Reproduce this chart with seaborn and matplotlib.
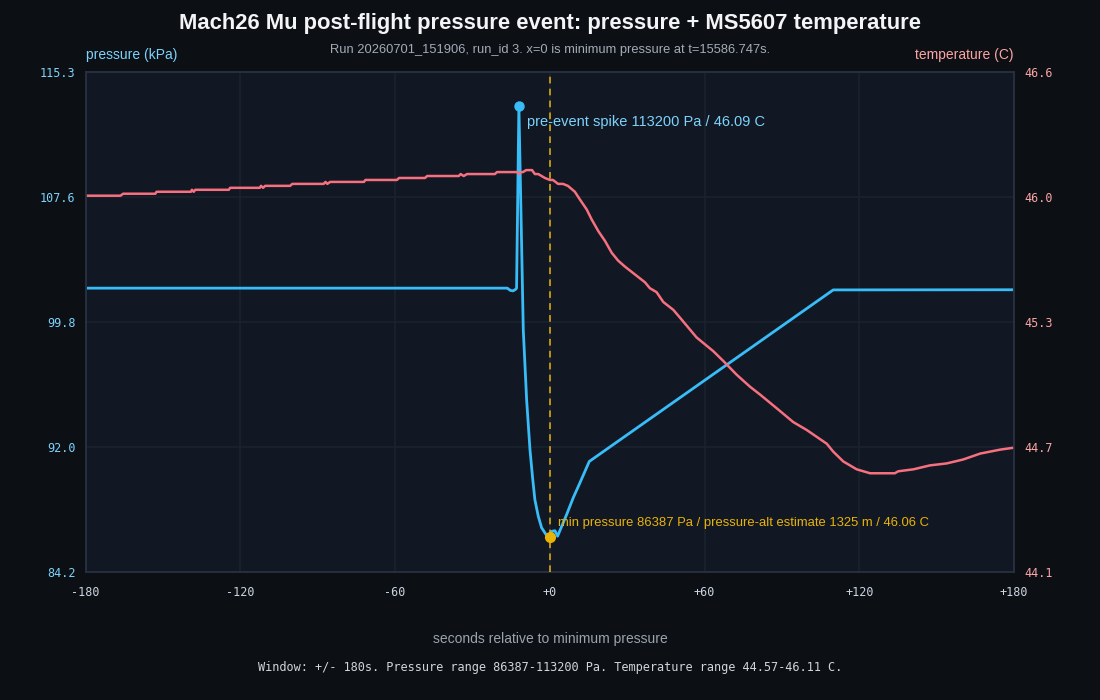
import numpy as np
import seaborn as sns
import matplotlib.pyplot as plt

# data (seconds relative to min pressure)
pressure_t = [-180, -16.5, -15.3, -14.3, -13.3, -12.9, -12.0, -10.3, -9.0, -7.7, -6.7, -5.8, -4.5,
              -3.2, -1.2, 0.0, 0.7, 2.0, 3.0, 6.5, 9.1, 11.7, 15.3, 109.9, 180]
pressure_kpa = [101.88, 101.88, 101.74, 101.71, 101.80, 101.88, 113.2, 99.29, 94.93, 91.83, 90.1, 88.72, 87.70,
                86.98, 86.48, 86.387, 86.75, 86.79, 86.45, 87.79, 88.85, 89.78, 91.10, 101.77, 101.78]

temp_t = [-180, -166.5, -165.5, -153.0, -152.5, -139.2, -138.8, -138.1, -137.5, -124.5, -124.0,
          -112.5, -112.0, -111.2, -110.4, -100.7, -99.9, -87.7, -87.0, -86.3, -85.2, -72.1, -71.5,
          -59.3, -58.5, -48.4, -47.6, -35.3, -34.6, -33.4, -32.1, -21.3, -20.5, -12.7, -12.0, -11.2,
          -10.4, -9.2, -6.9, -5.8, -4.5, -3.2, -1.9, 0.0, 1.2, 3.2, 5.1, 7.0, 9.7, 11.7, 14.3, 16.2,
          18.8, 21.4, 24.0, 26.5, 29.1, 33.0, 36.9, 38.8, 41.4, 44.0, 47.9, 50.5, 56.9, 63.4, 67.3,
          72.5, 77.6, 81.5, 88.0, 94.4, 99.6, 107.4, 109.9, 113.8, 119.0, 124.2, 133.8, 135.1, 141.0,
          147.4, 153.9, 160.3, 166.9, 174.6, 180]
temp_c = [45.98, 45.98, 45.99, 45.99, 46.00, 46.00, 46.01, 46.00, 46.01, 46.01, 46.02,
          46.02, 46.03, 46.02, 46.03, 46.03, 46.04, 46.04, 46.05, 46.04, 46.05, 46.05, 46.06,
          46.06, 46.07, 46.07, 46.08, 46.08, 46.09, 46.08, 46.09, 46.09, 46.10, 46.10, 46.09, 46.10,
          46.10, 46.11, 46.11, 46.09, 46.09, 46.08, 46.07, 46.06, 46.06, 46.04, 46.04, 46.03, 46.00, 45.96, 45.91, 45.86,
          45.80, 45.75, 45.69, 45.65, 45.62, 45.58, 45.54, 45.51, 45.49, 45.44, 45.40, 45.36, 45.26, 45.19, 45.14,
          45.07, 45.01, 44.97, 44.90, 44.83, 44.79, 44.72, 44.68, 44.63, 44.59, 44.57, 44.57, 44.58, 44.59,
          44.61, 44.62, 44.64, 44.67, 44.69, 44.70]

x_ticks = [-180, -120, -60, 0, 60, 120, 180]
x_tick_labels = ["-180", "-120", "-60", "+0", "+60", "+120", "+180"]

spike_t, spike_kpa = -12.0, 113.2
min_t, min_kpa = 0.0, 86.387

p_lim = (84.242, 115.345)
t_lim = (44.07, 46.61)

title = "Mach26 Mu post-flight pressure event: pressure + MS5607 temperature"
subtitle = "Run 20260701_151906, run_id 3. x=0 is minimum pressure at t=15586.747s."
footer = "Window: +/- 180s. Pressure range 86387-113200 Pa. Temperature range 44.57-46.11 C."

BG = "#0c0f14"
PANEL = "#111823"
GRID = "#1b2330"
SPINE = "#263040"
P_COLOR = "#38bdf8"
T_COLOR = "#f7707f"
AMBER = "#eab308"
MONO = "DejaVu Sans Mono"

sns.set_theme(style="dark")
plt.rcParams["font.family"] = ["Liberation Sans", "DejaVu Sans"]

fig = plt.figure(figsize=(11, 7), dpi=100, facecolor=BG)
ax = fig.add_axes([0.0779, 0.1833, 0.8439, 0.7143])
ax.set_facecolor(PANEL)
ax2 = ax.twinx()

sns.lineplot(x=pressure_t, y=pressure_kpa, ax=ax, color=P_COLOR, lw=2.0,
             estimator=None, sort=False)
sns.lineplot(x=temp_t, y=temp_c, ax=ax2, color=T_COLOR, lw=1.8,
             estimator=None, sort=False)

ax.set_xlim(-180, 180)
ax.set_ylim(*p_lim)
ax2.set_ylim(*t_lim)

p_ticks = np.linspace(p_lim[0], p_lim[1], 5)
t_ticks = np.linspace(t_lim[0], t_lim[1], 5)
ax.set_xticks(x_ticks, x_tick_labels, fontfamily=MONO, fontsize=8.5)
ax.set_yticks(p_ticks, [f"{v:.1f}" for v in p_ticks], fontfamily=MONO, fontsize=8.5)
ax2.set_yticks(t_ticks, [f"{v:.1f}" for v in t_ticks], fontfamily=MONO, fontsize=8.5)

ax.tick_params(axis="x", length=0, pad=10.5, labelcolor="#cbd5e1")
ax.tick_params(axis="y", length=0, pad=7.5, labelcolor="#7dd3fc")
ax2.tick_params(axis="y", length=0, pad=7.5, labelcolor="#fca5a5")
ax.set_xlabel("")
ax.set_ylabel("")
ax2.set_ylabel("")

ax.grid(True, color=GRID, lw=1.1)
ax.set_axisbelow(True)
ax2.grid(False)
for a in (ax, ax2):
    for s in a.spines.values():
        s.set_color(SPINE)
        s.set_linewidth(1.2)

# event markers
ax2.axvline(0, color=AMBER, lw=1.3, ls=(0, (3.7, 2.9)), alpha=0.85, zorder=5)
ax.plot([spike_t], [spike_kpa], "o", color=P_COLOR, ms=6.5, zorder=6)
ax.plot([min_t], [min_kpa], "o", color=AMBER, ms=7, zorder=6)
ax.annotate("pre-event spike 113200 Pa / 46.09 C", xy=(spike_t, spike_kpa),
            xytext=(5.8, -11.5), textcoords="offset points", color="#7dd3fc",
            fontsize=10.5, va="center", ha="left")
ax.annotate("min pressure 86387 Pa / pressure-alt estimate 1325 m / 46.06 C",
            xy=(min_t, min_kpa), xytext=(5.8, 10), textcoords="offset points",
            color=AMBER, fontsize=9.4, va="center", ha="left")

# texts around the plot
fig.text(0.5, 1 - 23.5 / 700, title, ha="center", va="center", fontsize=15.8,
         fontweight="bold", color="#f3f4f6")
fig.text(0.5, 1 - 50 / 700, subtitle, ha="center", va="center", fontsize=9.3,
         color="#a3abb8")
fig.text(0.0779, 1 - 55.5 / 700, "pressure (kPa)", ha="left", va="center",
         fontsize=10, color="#7dd3fc")
fig.text(0.9218, 1 - 55.5 / 700, "temperature (C)", ha="right", va="center",
         fontsize=10, color="#fca5a5")
fig.text(0.5, 1 - 639 / 700, "seconds relative to minimum pressure", ha="center",
         va="center", fontsize=10, color="#9ca3af")
fig.text(0.5, 1 - 667 / 700, footer, ha="center", va="center", fontsize=8.6,
         fontfamily=MONO, color="#d1d5db")

fig.savefig("out.png", dpi=100, facecolor=BG)
plt.close(fig)
